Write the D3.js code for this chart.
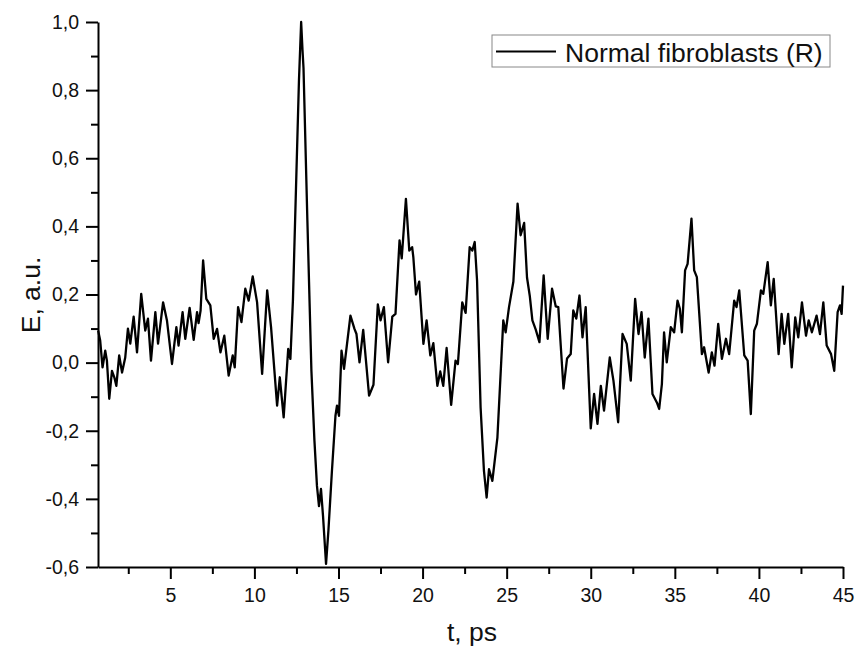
<!DOCTYPE html>
<html>
<head>
<meta charset="utf-8">
<script src="https://cdn.jsdelivr.net/npm/d3@7"></script>
<style>
  body { margin: 0; background: #fff; }
  svg text { font-family: "Liberation Sans", Arial, sans-serif; fill: #111; }
</style>
</head>
<body>
<div id="chart"></div>
<script>
var width = 856;
var height = 651;

// time, ps
var tValues = [
  0.71, 0.83, 0.97, 1.13, 1.23, 1.37, 1.53, 1.67, 1.79, 1.96, 2.13, 2.32, 2.48, 2.62, 2.82, 3.02,
  3.27, 3.51, 3.67, 3.85, 4.11, 4.27, 4.57, 4.80, 5.10, 5.36, 5.49, 5.73, 5.89, 6.15, 6.39, 6.59,
  6.68, 6.80, 6.95, 7.14, 7.38, 7.58, 7.78, 7.98, 8.21, 8.47, 8.71, 8.83, 9.03, 9.23, 9.46, 9.66,
  9.90, 10.16, 10.46, 10.76, 10.99, 11.35, 11.51, 11.74, 12.01, 12.14, 12.29, 12.47, 12.65, 12.78,
  12.86, 12.92, 13.15, 13.39, 13.57, 13.72, 13.84, 13.96, 14.08, 14.26, 14.40, 14.61, 14.82, 14.91,
  15.03, 15.18, 15.33, 15.71, 15.95, 16.07, 16.25, 16.47, 16.82, 17.08, 17.34, 17.50, 17.70, 17.95,
  18.20, 18.39, 18.63, 18.76, 19.01, 19.21, 19.38, 19.45, 19.61, 19.80, 20.05, 20.24, 20.46, 20.64,
  20.88, 21.05, 21.23, 21.43, 21.70, 21.96, 22.10, 22.36, 22.56, 22.80, 22.96, 23.10, 23.24, 23.45,
  23.65, 23.81, 23.95, 24.15, 24.45, 24.80, 24.94, 25.14, 25.40, 25.65, 25.83, 26.04, 26.21, 26.38,
  26.53, 26.73, 26.95, 27.20, 27.44, 27.70, 27.92, 28.07, 28.38, 28.59, 28.81, 28.96, 29.14, 29.33,
  29.51, 29.70, 30.00, 30.20, 30.40, 30.60, 30.79, 31.13, 31.35, 31.63, 31.89, 32.14, 32.38, 32.64,
  32.84, 33.02, 33.21, 33.43, 33.67, 33.93, 34.07, 34.23, 34.36, 34.52, 34.76, 34.96, 35.16, 35.30,
  35.42, 35.61, 35.76, 35.99, 36.15, 36.31, 36.61, 36.74, 37.01, 37.20, 37.36, 37.58, 37.80, 38.04,
  38.23, 38.53, 38.67, 38.83, 39.13, 39.33, 39.52, 39.72, 39.88, 40.12, 40.26, 40.52, 40.71, 40.88,
  41.17, 41.35, 41.51, 41.74, 41.95, 42.16, 42.34, 42.56, 42.80, 42.96, 43.15, 43.43, 43.63, 43.83,
  44.03, 44.29, 44.48, 44.68, 44.82, 44.92, 45.00
];

// E, a.u.
var eValues = [
  0.094, 0.065, -0.014, 0.035, 0.006, -0.106, -0.024, -0.043, -0.068, 0.021, -0.029, 0.015, 0.100, 0.056, 0.135, 0.030,
  0.202, 0.094, 0.129, 0.006, 0.148, 0.056, 0.177, 0.124, -0.004, 0.104, 0.050, 0.148, 0.070, 0.161, 0.067, 0.148,
  0.116, 0.153, 0.300, 0.187, 0.168, 0.070, 0.099, 0.030, 0.079, -0.038, 0.021, -0.014, 0.163, 0.119, 0.217, 0.182,
  0.253, 0.177, -0.033, 0.212, 0.104, -0.126, -0.043, -0.161, 0.040, 0.011, 0.182, 0.506, 0.829, 1.000,
  0.918, 0.865, 0.418, -0.024, -0.229, -0.362, -0.421, -0.371, -0.450, -0.591, -0.494, -0.318, -0.156, -0.126,
  -0.156, 0.035, -0.018, 0.138, 0.099, 0.084, 0.001, 0.096, -0.097, -0.065, 0.171, 0.124, 0.163, 0.001,
  0.135, 0.143, 0.359, 0.306, 0.481, 0.329, 0.339, 0.310, 0.200, 0.238, 0.055, 0.124, 0.021, 0.057,
  -0.068, -0.026, -0.068, 0.043, -0.124, 0.006, -0.004, 0.177, 0.146, 0.339, 0.329, 0.354, 0.241, -0.131,
  -0.318, -0.396, -0.313, -0.347, -0.220, 0.124, 0.089, 0.163, 0.238, 0.467, 0.374, 0.410, 0.250, 0.194,
  0.124, 0.097, 0.060, 0.256, 0.070, 0.217, 0.165, 0.163, -0.076, 0.012, 0.025, 0.153, 0.129, 0.197,
  0.074, 0.163, -0.193, -0.092, -0.180, -0.068, -0.141, 0.015, -0.053, -0.175, 0.084, 0.055, -0.053, 0.187,
  0.084, 0.148, 0.015, 0.129, -0.092, -0.117, -0.136, -0.063, 0.089, 0.001, 0.104, 0.089, 0.182, 0.158,
  0.089, 0.271, 0.290, 0.423, 0.271, 0.251, 0.025, 0.045, -0.029, 0.030, -0.009, 0.114, 0.011, 0.070,
  0.025, 0.182, 0.163, 0.212, 0.021, 0.006, -0.151, 0.094, 0.114, 0.212, 0.202, 0.295, 0.168, 0.246,
  0.025, 0.143, 0.055, 0.143, -0.014, 0.133, 0.074, 0.177, 0.079, 0.124, 0.089, 0.138, 0.084, 0.177,
  0.050, 0.025, -0.024, 0.148, 0.168, 0.143, 0.226
];

var xTicks = [5, 10, 15, 20, 25, 30, 35, 40, 45];
var xMinorTicks = [2.5, 7.5, 12.5, 17.5, 22.5, 27.5, 32.5, 37.5, 42.5];
var yTicks = [-0.6, -0.4, -0.2, 0.0, 0.2, 0.4, 0.6, 0.8, 1.0];
var yMinorTicks = [-0.5, -0.3, -0.1, 0.1, 0.3, 0.5, 0.7, 0.9];
var seriesName = 'Normal fibroblasts (R)';

var svg = d3.select('#chart').append('svg')
            .attr('width', width).attr('height', height);

var x = d3.scaleLinear().domain([0.7, 45]).range([98, 843]);
var y = d3.scaleLinear().domain([-0.6, 1.0]).range([567, 22]);

var fmt = function(d){ return d.toFixed(1).replace('.', ','); };

// minor ticks first so the major axis draws over them
svg.append('g')
   .attr('transform', 'translate(0,567)')
   .call(d3.axisBottom(x).tickValues(xMinorTicks).tickSize(7).tickFormat(''))
   .call(function(g){ g.select('.domain').remove(); });

svg.append('g')
   .attr('transform', 'translate(98,0)')
   .call(d3.axisLeft(y).tickValues(yMinorTicks).tickSize(7).tickFormat(''))
   .call(function(g){ g.select('.domain').remove(); });

var xAxis = svg.append('g')
   .attr('transform', 'translate(0,567)')
   .call(d3.axisBottom(x).tickValues(xTicks).tickSizeInner(12).tickSizeOuter(0).tickPadding(9));

var yAxis = svg.append('g')
   .attr('transform', 'translate(98,0)')
   .call(d3.axisLeft(y).tickValues(yTicks).tickFormat(fmt).tickSizeInner(12).tickSizeOuter(0).tickPadding(7));

svg.selectAll('.tick line').attr('stroke', '#000').attr('stroke-width', 2);
svg.selectAll('.domain').attr('stroke', '#000').attr('stroke-width', 2);
xAxis.selectAll('text').attr('font-size', '19.5px');
yAxis.selectAll('text').attr('font-size', '19.5px');

// the curve
var points = tValues.map(function(t, i){ return [t, eValues[i]]; });
var line = d3.line()
  .x(function(d){ return x(d[0]); })
  .y(function(d){ return y(d[1]); });

svg.append('path')
   .datum(points)
   .attr('d', line)
   .attr('fill', 'none')
   .attr('stroke', '#000')
   .attr('stroke-width', 2.3)
   .attr('stroke-linejoin', 'round');

// axis titles
svg.append('text')
   .attr('x', 472).attr('y', 641)
   .attr('text-anchor', 'middle')
   .attr('font-size', '26.5px')
   .text('t, ps');

svg.append('text')
   .attr('transform', 'translate(40,295) rotate(-90)')
   .attr('text-anchor', 'middle')
   .attr('font-size', '26.5px')
   .text('E, a.u.');

// legend
var legend = svg.append('g');
legend.append('rect')
   .attr('x', 492).attr('y', 35).attr('width', 338).attr('height', 32)
   .attr('fill', '#fff').attr('stroke', '#888').attr('stroke-width', 1);
legend.append('line')
   .attr('x1', 496).attr('x2', 556).attr('y1', 51.5).attr('y2', 51.5)
   .attr('stroke', '#000').attr('stroke-width', 2);
legend.append('text')
   .attr('x', 565).attr('y', 61.5)
   .attr('font-size', '26.5px')
   .text(seriesName);
</script>
</body>
</html>
